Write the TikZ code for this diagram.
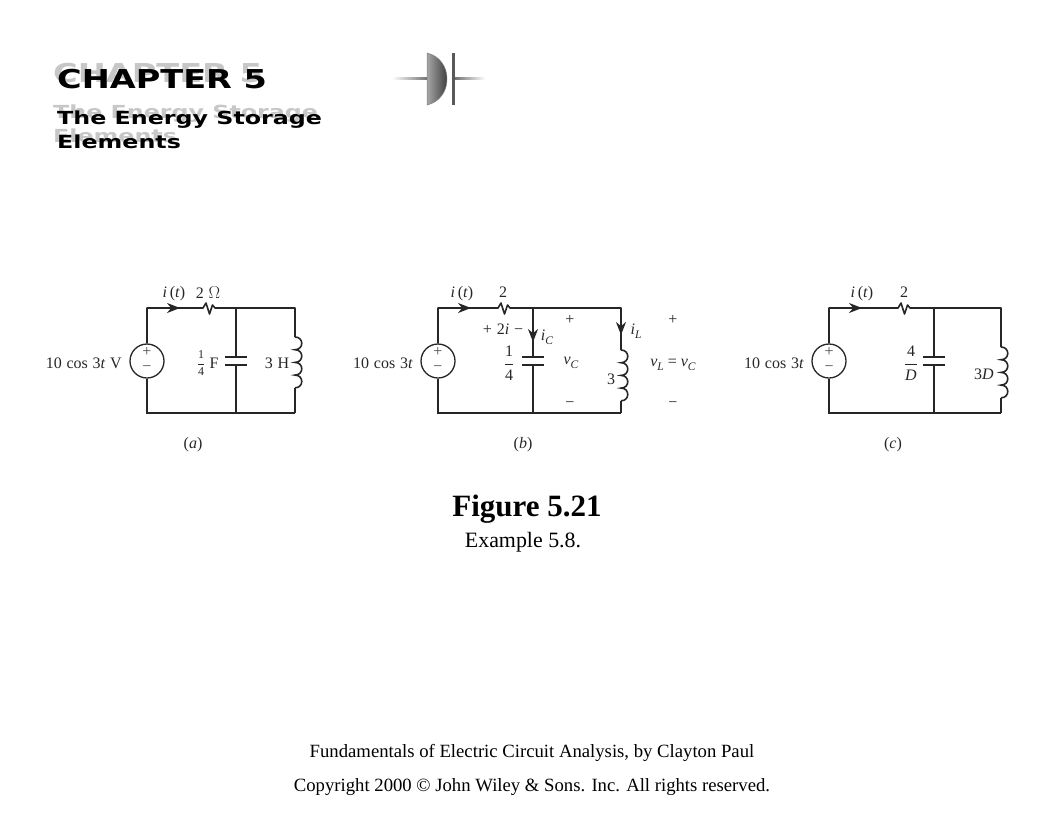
\documentclass[tikz,border=0pt]{standalone}
\usepackage{amsmath}
\usepackage{fontspec}
\setmainfont{Liberation Serif}
\newfontfamily\logofont{DejaVu Sans}
\usetikzlibrary{arrows.meta}

\newcommand{\lbl}[2]{\textit{#1}\raisebox{-.28em}{\fontsize{11.5}{12}\selectfont\textit{#2}}}
\newcommand{\stackfrac}[2]{$\displaystyle\frac{\mbox{#1}}{\mbox{#2}}$}

\tikzset{
  wire/.style={line width=1.6pt,black!85},
  plate/.style={line width=1.6pt,black!85},
  srcbox/.style={circle,draw=black!85,line width=1.3pt,minimum size=34pt,inner sep=0pt},
  flow/.style={-{Stealth[length=13pt,width=10pt]},line width=1.6pt,black!85},
  tag/.style={font=\fontsize{16}{16}\selectfont,text=black!85,inner sep=0pt,yshift=-1pt},
  sign/.style={font=\fontsize{16}{16}\selectfont,text=black!70,inner sep=0pt},
  logoa/.style={font=\logofont\bfseries\fontsize{26}{26}\selectfont,inner sep=0pt,anchor=west},
  logob/.style={font=\logofont\bfseries\fontsize{18}{18}\selectfont,inner sep=0pt,anchor=west},
  shadow/.style={text=black!22}
}

\begin{document}
\begin{tikzpicture}[x=1pt,y=-1pt]
  \useasboundingbox (0,0) rectangle (1056,816);

  % chapter heading
  \node[logoa,shadow] (headback) at (53,73) {\scalebox{1.29}[1]{CHAPTER 5}};
  \node[logoa] (head) at (57,79) {\scalebox{1.29}[1]{CHAPTER 5}};
  \node[logob,shadow] (subback) at (53,114) {\scalebox{1.32}[1]{The Energy Storage}};
  \node[logob,shadow] (subbackb) at (53,136) {\scalebox{1.32}[1]{Elements}};
  \node[logob] (sub) at (57,120) {\scalebox{1.32}[1]{The Energy Storage}};
  \node[logob] (subb) at (57,142) {\scalebox{1.32}[1]{Elements}};

  % capacitor icon
  \shade[left color=white,right color=black!55] (392,77) rectangle (427,79);
  \shade[left color=black!55,right color=white] (455,77) rectangle (485,79);
  \shade[left color=black!35,right color=black!75,draw=black!50,line width=.5pt]
    (427,53) .. controls (440,56) and (447,67) .. (447,79) .. controls (447,91) and (440,102) .. (427,105) -- cycle;
  \fill[black!65] (451.5,53) rectangle (454.5,105);

  % the three circuits
  \foreach \name/\xl/\xc/\xr/\xres/\ya in {a/147/236/295/203/337,b/438/533/621/498/350,c/829/934/1001/898/347}{
    \node[srcbox] (src\name) at (\xl,361) {};
    \coordinate (tl\name) at (\xl,308);
    \coordinate (bl\name) at (\xl,413);
    \coordinate (tc\name) at (\xc,308);
    \coordinate (bc\name) at (\xc,413);
    \coordinate (tr\name) at (\xr,308);
    \coordinate (br\name) at (\xr,413);
    \coordinate (pa\name) at (\xc,357);
    \coordinate (pb\name) at (\xc,365);
    \coordinate (ra\name) at (\xres,308);
    \coordinate (rb\name) at (\xres+12,308);
    \coordinate (la\name) at (\xr,\ya);
    \node[sign] (plus\name) at (\xl,352) {+};
    \node[sign] (minus\name) at (\xl,369) {\textminus};
    % loop with resistor
    \draw[wire,line join=round] (src\name.north) -- (tl\name) -- (ra\name) -- ++(3,-5) -- ++(3.5,11) -- ++(3,-9) -- (rb\name) -- (tr\name) -- (la\name);
    \draw[wire] (src\name.south) -- (bl\name) -- (br\name);
    \draw[wire] (tc\name) -- (pa\name);
    \draw[wire] (pb\name) -- (bc\name);
    \draw[plate] ([xshift=-11pt]pa\name) -- ([xshift=11pt]pa\name);
    \draw[plate] ([xshift=-11pt]pb\name) -- ([xshift=11pt]pb\name);
    % coil
    \draw[wire] (la\name) \foreach \k in {1,2,3,4}{ .. controls +(9,0) and +(9,0) .. ++(0,12.7)} coordinate (lb\name);
    \draw[wire] (lb\name) -- (br\name);
    % current arrow
    \draw[flow] ([xshift=19pt]tl\name) -- ([xshift=33pt]tl\name);
  }

  % labels of (a)
  \node[tag,anchor=east] (va) at (122,362) {10\hspace{.3em}cos\hspace{.3em}3\textit{t}\hspace{.3em}V};
  \node[tag] (ia) at (174,293) {\textit{i}\,(\textit{t})};
  \node[tag] (ra) at (208,292) {2\hspace{.3em}$\Omega$};
  \node[tag,font=\fontsize{12}{12}\selectfont] (ca) at (201,362) {\stackfrac{1}{4}};
  \node[tag] (fa) at (214,362) {F};
  \node[tag] (ha) at (277,362) {3\hspace{.3em}H};
  \node[tag] (capa) at (193,444) {(\textit{a})};

  % labels of (b)
  \node[tag,anchor=east] (vb) at (413,362) {10\hspace{.3em}cos\hspace{.3em}3\textit{t}};
  \node[tag] (ib) at (462,293) {\textit{i}\,(\textit{t})};
  \node[tag] (rb) at (503,291) {2};
  \node[tag] (vrb) at (503,328) {+\hspace{.3em}2\textit{i}\hspace{.3em}\textminus};
  \node[tag] (icb) at (547,336) {\lbl{i}{C}};
  \node[tag] (pcb) at (570,319) {+};
  \node[tag] (vcb) at (571,362) {\lbl{v}{C}};
  \node[tag] (mcb) at (570,404) {\textminus};
  \node[tag] (ilb) at (636,330) {\lbl{i}{L}};
  \node[tag] (plb) at (673,319) {+};
  \node[tag] (vlb) at (673,364) {\lbl{v}{L} = \lbl{v}{C}};
  \node[tag] (mlb) at (673,404) {\textminus};
  \node[tag] (cb) at (509,362) {\stackfrac{1}{4}};
  \node[tag] (hb) at (611,378) {3};
  \node[tag] (capb) at (523,444) {(\textit{b})};
  \coordinate (fca) at (533,328);
  \coordinate (fcb) at (533,342);
  \coordinate (fla) at (621,321);
  \coordinate (flb) at (621,335);
  \draw[flow] (fca) -- (fcb);
  \draw[flow] (fla) -- (flb);

  % labels of (c)
  \node[tag,anchor=east] (vc) at (804,362) {10\hspace{.3em}cos\hspace{.3em}3\textit{t}};
  \node[tag] (ic) at (862,293) {\textit{i}\,(\textit{t})};
  \node[tag] (rc) at (904,291) {2};
  \node[tag] (cc) at (911,362) {\stackfrac{4}{\textit{D}}};
  \node[tag] (hc) at (984,373) {3\textit{D}};
  \node[tag] (capc) at (893,444) {(\textit{c})};

  % caption
  \node[inner sep=0pt,font=\bfseries\fontsize{31}{31}\selectfont] (title) at (527,509) {Figure 5.21};
  \node[inner sep=0pt,font=\fontsize{21.9}{22}\selectfont] (subtitle) at (523,542) {Example 5.8.};
  \node[inner sep=0pt,font=\fontsize{18.7}{19}\selectfont] (book) at (532,753) {Fundamentals of Electric Circuit Analysis, by Clayton Paul};
  \node[inner sep=0pt,font=\fontsize{18.7}{19}\selectfont] (copy) at (532,787) {Copyright 2000 \textcopyright{} John Wiley \& Sons. Inc. All rights reserved.};
\end{tikzpicture}
\end{document}
